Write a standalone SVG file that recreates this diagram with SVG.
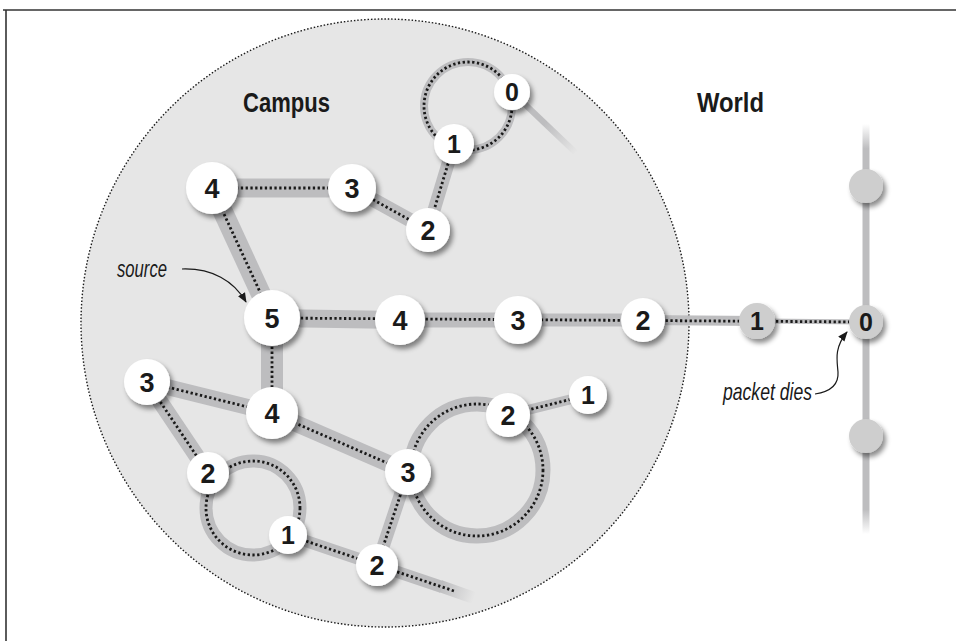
<svg xmlns="http://www.w3.org/2000/svg" width="956" height="641" viewBox="0 0 956 641">
<defs>
<filter id="sh" x="-50%" y="-50%" width="200%" height="200%">
<feDropShadow dx="3" dy="4" stdDeviation="2.5" flood-color="#000" flood-opacity="0.45"/>
</filter>
<marker id="ah" viewBox="0 0 10 10" refX="9" refY="5" markerWidth="10" markerHeight="10" markerUnits="userSpaceOnUse" orient="auto">
<path d="M0,1 L10,5 L0,9 z" fill="#1a1a1a"/>
</marker>
<linearGradient id="gTop" gradientUnits="userSpaceOnUse" x1="545" y1="123" x2="576" y2="153">
<stop offset="0" stop-color="#bdbdbf" stop-opacity="1"/>
<stop offset="1" stop-color="#bdbdbf" stop-opacity="0"/>
</linearGradient>
<linearGradient id="gBot" gradientUnits="userSpaceOnUse" x1="440" y1="586" x2="474" y2="598">
<stop offset="0" stop-color="#bdbdbf" stop-opacity="1"/>
<stop offset="1" stop-color="#bdbdbf" stop-opacity="0"/>
</linearGradient>
<linearGradient id="gWorld" gradientUnits="userSpaceOnUse" x1="0" y1="124" x2="0" y2="534">
<stop offset="0" stop-color="#bdbdbf" stop-opacity="0"/>
<stop offset="0.06" stop-color="#bdbdbf" stop-opacity="1"/>
<stop offset="0.94" stop-color="#bdbdbf" stop-opacity="1"/>
<stop offset="1" stop-color="#bdbdbf" stop-opacity="0"/>
</linearGradient>
</defs>
<style>
.band{stroke:#bdbdbf;fill:none;stroke-linecap:butt}
.dot{stroke:#1a1a1a;stroke-width:2.8;stroke-dasharray:2.3 2.5;fill:none}
.node{fill:#ffffff;filter:url(#sh)}
.gnode{fill:#cecece;filter:url(#sh)}
.num{font-family:"Liberation Sans",Arial,sans-serif;font-weight:bold;font-size:27px;fill:#1a1a1a;text-anchor:middle}
.num.s{font-size:25px}
.title{font-family:"Liberation Sans",Arial,sans-serif;font-weight:bold;font-size:28px;fill:#1a1a1a}
.note{font-family:"Liberation Sans",Arial,sans-serif;font-style:italic;font-size:24px;fill:#1a1a1a}
.arrow{stroke:#1a1a1a;stroke-width:1.2;fill:none;marker-end:url(#ah)}
</style>

<!-- frame -->
<line x1="3" y1="10" x2="956" y2="10" stroke="#333" stroke-width="1.6"/>
<line x1="6" y1="10" x2="6" y2="641" stroke="#333" stroke-width="1.6"/>

<!-- campus area -->
<g id="campus">
<circle cx="385" cy="323" r="304" fill="#e6e6e6" stroke="#1a1a1a" stroke-width="1.4" stroke-dasharray="1.5 1.9"/>
</g>

<g id="connectors">
<!-- bands -->
<line class="band" x1="212" y1="188" x2="272" y2="318" stroke-width="20"/>
<line class="band" x1="212" y1="188" x2="352" y2="188" stroke-width="19"/>
<line class="band" x1="352" y1="188" x2="428" y2="230" stroke-width="14"/>
<line class="band" x1="428" y1="230" x2="454" y2="144" stroke-width="13"/>
<circle class="band" cx="468" cy="106" r="44" stroke-width="8"/>
<line x1="512" y1="92" x2="576" y2="153" stroke="url(#gTop)" stroke-width="6"/>

<line class="band" x1="272" y1="318" x2="400" y2="320" stroke-width="18"/>
<line class="band" x1="400" y1="320" x2="518" y2="320" stroke-width="15"/>
<line class="band" x1="518" y1="320" x2="643" y2="320" stroke-width="13"/>
<line class="band" x1="643" y1="320" x2="757" y2="321" stroke-width="10"/>
<line class="band" x1="757" y1="321" x2="866" y2="322" stroke-width="5"/>

<line x1="866" y1="124" x2="866" y2="534" stroke="url(#gWorld)" stroke-width="7"/>

<line class="band" x1="272" y1="318" x2="272" y2="413" stroke-width="22"/>
<line class="band" x1="272" y1="413" x2="147" y2="382" stroke-width="16"/>
<line class="band" x1="147" y1="382" x2="208" y2="473" stroke-width="16"/>
<circle class="band" cx="253" cy="508" r="47" stroke-width="13"/>
<line class="band" x1="288" y1="535" x2="442" y2="587" stroke-width="12"/>
<line x1="440" y1="586" x2="474" y2="598" stroke="url(#gBot)" stroke-width="12"/>
<line class="band" x1="272" y1="413" x2="408" y2="472" stroke-width="17"/>
<circle class="band" cx="477" cy="470" r="66" stroke-width="15"/>
<line class="band" x1="408" y1="472" x2="377" y2="565" stroke-width="13"/>
<line class="band" x1="508" y1="415" x2="588" y2="395" stroke-width="10"/>

<!-- dotted paths -->
<line class="dot" x1="212" y1="188" x2="272" y2="318"/>
<line class="dot" x1="212" y1="188" x2="352" y2="188"/>
<line class="dot" x1="352" y1="188" x2="428" y2="230"/>
<line class="dot" x1="428" y1="230" x2="454" y2="144"/>
<circle class="dot" cx="468" cy="106" r="44"/>
<line class="dot" x1="272" y1="318" x2="866" y2="322"/>
<line class="dot" x1="272" y1="318" x2="272" y2="413"/>
<line class="dot" x1="272" y1="413" x2="147" y2="382"/>
<line class="dot" x1="147" y1="382" x2="208" y2="473"/>
<circle class="dot" cx="253" cy="508" r="47"/>
<line class="dot" x1="288" y1="535" x2="454" y2="591"/>
<line class="dot" x1="272" y1="413" x2="408" y2="472"/>
<circle class="dot" cx="477" cy="470" r="66"/>
<line class="dot" x1="408" y1="472" x2="377" y2="565"/>
<line class="dot" x1="508" y1="415" x2="588" y2="395"/>

<!-- annotation arrows -->
<path class="arrow" d="M182,269 C212,268 234,281 246,302"/>
<path class="arrow" d="M815,394 C828,392 839,386 838,372 C837,360 834,348 847,332"/>
</g>

<!-- nodes -->
<g id="n-t0"><circle class="node" cx="512" cy="92" r="18"/><text class="num s" x="512" y="101">0</text></g>
<g id="n-t1"><circle class="node" cx="454" cy="144" r="20"/><text class="num s" x="454" y="153">1</text></g>
<g id="n-t2"><circle class="node" cx="428" cy="230" r="22"/><text class="num" x="428" y="239.5">2</text></g>
<g id="n-t3"><circle class="node" cx="352" cy="188" r="24"/><text class="num" x="352" y="197.5">3</text></g>
<g id="n-t4"><circle class="node" cx="212" cy="188" r="26"/><text class="num" x="212" y="197.5">4</text></g>
<g id="n-s5"><circle class="node" cx="272" cy="318" r="28"/><text class="num" x="272" y="327.5">5</text></g>
<g id="n-m4"><circle class="node" cx="400" cy="320" r="25"/><text class="num" x="400" y="329.5">4</text></g>
<g id="n-m3"><circle class="node" cx="518" cy="320" r="24"/><text class="num" x="518" y="329.5">3</text></g>
<g id="n-m2"><circle class="node" cx="643" cy="320" r="22"/><text class="num" x="643" y="329.5">2</text></g>
<g id="n-g1"><circle class="gnode" cx="757" cy="321" r="18"/><text class="num s" x="757" y="330">1</text></g>
<g id="n-g0"><circle class="gnode" cx="866" cy="322" r="17"/><text class="num s" x="866" y="331">0</text></g>
<g id="n-w1"><circle class="gnode" cx="866" cy="186" r="17"/></g>
<g id="n-w2"><circle class="gnode" cx="866" cy="436" r="17"/></g>
<g id="n-l3"><circle class="node" cx="147" cy="382" r="23"/><text class="num" x="147" y="391.5">3</text></g>
<g id="n-l4"><circle class="node" cx="272" cy="413" r="26"/><text class="num" x="272" y="422.5">4</text></g>
<g id="n-l2"><circle class="node" cx="208" cy="473" r="21"/><text class="num" x="208" y="482.5">2</text></g>
<g id="n-l1"><circle class="node" cx="288" cy="535" r="19"/><text class="num s" x="288" y="544">1</text></g>
<g id="n-r3"><circle class="node" cx="408" cy="472" r="23"/><text class="num" x="408" y="481.5">3</text></g>
<g id="n-r2"><circle class="node" cx="508" cy="415" r="22"/><text class="num" x="508" y="424.5">2</text></g>
<g id="n-r1"><circle class="node" cx="588" cy="395" r="19"/><text class="num s" x="588" y="404">1</text></g>
<g id="n-b2"><circle class="node" cx="377" cy="565" r="21"/><text class="num" x="377" y="574.5">2</text></g>

<!-- labels -->
<text class="title" x="243" y="112" textLength="87" lengthAdjust="spacingAndGlyphs">Campus</text>
<text class="title" x="697" y="112" textLength="67" lengthAdjust="spacingAndGlyphs">World</text>
<text class="note" x="117" y="277" textLength="50" lengthAdjust="spacingAndGlyphs">source</text>
<text class="note" x="723" y="400" textLength="89" lengthAdjust="spacingAndGlyphs">packet dies</text>
</svg>
